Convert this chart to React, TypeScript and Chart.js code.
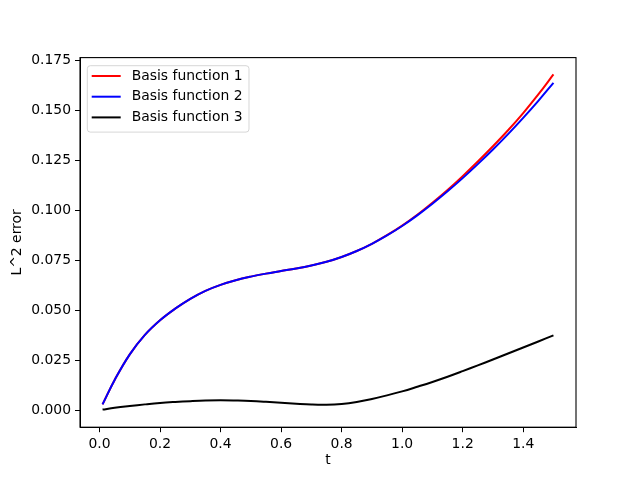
import React, { useEffect, useRef } from "react";
import { Chart, registerables } from "chart.js";

Chart.register(...registerables);

const tValues = [0.01, 0.05, 0.1, 0.15, 0.2, 0.25, 0.3, 0.35, 0.4, 0.45, 0.5, 0.55, 0.6, 0.65, 0.7, 0.75, 0.8, 0.85, 0.9, 0.95, 1.0, 1.05, 1.1, 1.15, 1.2, 1.25, 1.3, 1.35, 1.4, 1.45, 1.5];
const basis1 = [0.003, 0.0152, 0.028, 0.0377, 0.045, 0.0508, 0.0557, 0.0597, 0.0627, 0.065, 0.0668, 0.0683, 0.0696, 0.0709, 0.0724, 0.0742, 0.0766, 0.0796, 0.0832, 0.0875, 0.0923, 0.0977, 0.1037, 0.1101, 0.117, 0.1243, 0.1319, 0.1399, 0.1485, 0.1578, 0.1678];
const basis2 = [0.003, 0.0152, 0.028, 0.0377, 0.045, 0.0508, 0.0557, 0.0597, 0.0627, 0.065, 0.0668, 0.0683, 0.0696, 0.0709, 0.0724, 0.0742, 0.0766, 0.0796, 0.0832, 0.0874, 0.0921, 0.0974, 0.1032, 0.1094, 0.116, 0.123, 0.1303, 0.138, 0.1461, 0.1546, 0.1636];
const basis3 = [0.0004, 0.0013, 0.0022, 0.003, 0.0037, 0.0042, 0.0046, 0.0049, 0.005, 0.0049, 0.0047, 0.0043, 0.0038, 0.0033, 0.0029, 0.0028, 0.0032, 0.0042, 0.0057, 0.0075, 0.0095, 0.0118, 0.0142, 0.0168, 0.0196, 0.0225, 0.0254, 0.0284, 0.0314, 0.0344, 0.0375];

const seriesLabels = ["Basis function 1", "Basis function 2", "Basis function 3"];
const seriesColors = ["#ff0000", "#0000ff", "#000000"];
const seriesValues = [basis1, basis2, basis3];

const xTicks = [0, 0.2, 0.4, 0.6, 0.8, 1.0, 1.2, 1.4];
const yTicks = [0, 0.025, 0.05, 0.075, 0.1, 0.125, 0.15, 0.175];
const xTitle = "t";
const yTitle = "L^2 error";

const FONT = "'DejaVu Sans', sans-serif";
const FS = 13.9;

const framePlugin = {
  id: "frame",
  afterDraw(chart: any) {
    const { ctx, chartArea } = chart;
    ctx.save();
    ctx.strokeStyle = "#000";
    ctx.lineWidth = 1.1;
    ctx.strokeRect(chartArea.left, chartArea.top, chartArea.right - chartArea.left, chartArea.bottom - chartArea.top);
    ctx.restore();
  },
};

const legendPlugin = {
  id: "mplLegend",
  afterDraw(chart: any) {
    const { ctx, chartArea } = chart;
    const datasets = chart.data.datasets;
    ctx.save();
    ctx.font = `${FS}px ${FONT}`;
    let maxW = 0;
    datasets.forEach((d: any) => {
      maxW = Math.max(maxW, ctx.measureText(d.label).width);
    });
    const left = chartArea.left + 7.3;
    const top = chartArea.top + 8.1;
    const textX = left + 44.4;
    const w = textX + maxW + 6.5 - left;
    const rowH = 20.7;
    const h = 10.3 + rowH * (datasets.length - 1) + 14.7;
    const r = 3;
    ctx.beginPath();
    ctx.moveTo(left + r, top);
    ctx.lineTo(left + w - r, top);
    ctx.arcTo(left + w, top, left + w, top + r, r);
    ctx.lineTo(left + w, top + h - r);
    ctx.arcTo(left + w, top + h, left + w - r, top + h, r);
    ctx.lineTo(left + r, top + h);
    ctx.arcTo(left, top + h, left, top + h - r, r);
    ctx.lineTo(left, top + r);
    ctx.arcTo(left, top, left + r, top, r);
    ctx.closePath();
    ctx.fillStyle = "rgba(255,255,255,0.8)";
    ctx.fill();
    ctx.strokeStyle = "rgba(204,204,204,0.8)";
    ctx.lineWidth = 1;
    ctx.stroke();
    datasets.forEach((d: any, i: number) => {
      const y = top + 10.3 + i * rowH;
      ctx.beginPath();
      ctx.strokeStyle = d.borderColor;
      ctx.lineWidth = 2;
      ctx.moveTo(left + 4.4, y);
      ctx.lineTo(left + 33.4, y);
      ctx.stroke();
      ctx.fillStyle = "#000";
      ctx.textBaseline = "middle";
      ctx.textAlign = "left";
      ctx.fillText(d.label, textX, y);
    });
    ctx.restore();
  },
};

export default function App() {
  const ref = useRef<HTMLCanvasElement | null>(null);
  useEffect(() => {
    if (!ref.current) return;
    const datasets = seriesLabels.map((label, i) => ({
      label,
      data: tValues.map((t, j) => ({ x: t, y: seriesValues[i][j] })),
      borderColor: seriesColors[i],
      backgroundColor: seriesColors[i],
      borderWidth: 2,
      pointRadius: 0,
      tension: 0.4,
      order: seriesLabels.length - 1 - i,
      fill: false,
    }));
    const chart = new Chart(ref.current, {
      type: "line",
      data: { datasets },
      plugins: [framePlugin, legendPlugin],
      options: {
        animation: false,
        responsive: false,
        maintainAspectRatio: false,
        layout: { padding: { left: 0, top: 57.6, right: 64, bottom: 0 } },
        plugins: { legend: { display: false }, tooltip: { enabled: false } },
        scales: {
          x: {
            type: "linear",
            min: -0.0645,
            max: 1.5745,
            afterBuildTicks: (scale: any) => {
              scale.ticks = xTicks.map((v) => ({ value: v }));
            },
            afterFit: (scale: any) => {
              scale.height = 52.8;
            },
            grid: { display: true, drawOnChartArea: false, drawTicks: true, tickLength: 5, color: "#000", lineWidth: 1 },
            border: { display: true, color: "#000", width: 1 },
            ticks: {
              autoSkip: false,
              maxRotation: 0,
              padding: 4,
              color: "#000",
              font: { family: FONT, size: FS },
              callback: (v: any) => Number(v).toFixed(1),
            },
            title: {
              display: true,
              text: xTitle,
              color: "#000",
              font: { family: FONT, size: FS },
              padding: { top: 0, bottom: 11 },
            },
          },
          y: {
            type: "linear",
            min: -0.0084,
            max: 0.1762,
            afterBuildTicks: (scale: any) => {
              scale.ticks = yTicks.map((v) => ({ value: v }));
            },
            afterFit: (scale: any) => {
              scale.width = 80;
            },
            grid: { display: true, drawOnChartArea: false, drawTicks: true, tickLength: 5, color: "#000", lineWidth: 1 },
            border: { display: true, color: "#000", width: 1 },
            ticks: {
              autoSkip: false,
              padding: 4,
              color: "#000",
              font: { family: FONT, size: FS },
              callback: (v: any) => Number(v).toFixed(3),
            },
            title: {
              display: true,
              text: yTitle,
              color: "#000",
              font: { family: FONT, size: FS },
              padding: { top: 9, bottom: 0 },
            },
          },
        },
      },
    });
    return () => chart.destroy();
  }, []);
  return (
    <div style={{ position: "fixed", left: 0, top: 0, width: 640, height: 480, background: "#fff" }}>
      <canvas ref={ref} width={640} height={480} style={{ width: 640, height: 480, display: "block" }} />
    </div>
  );
}
